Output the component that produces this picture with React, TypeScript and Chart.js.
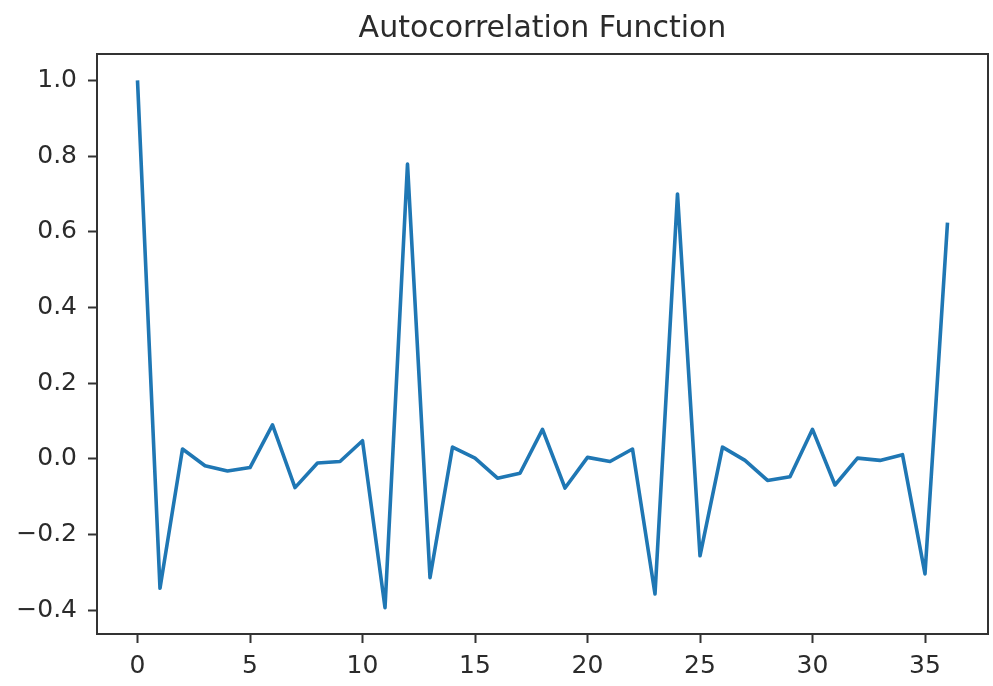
import React, { useEffect, useRef } from "react";
import { Chart, registerables } from "chart.js";

Chart.register(...registerables);

const titleText = "Autocorrelation Function";
const lags = [
  0, 1, 2, 3, 4, 5, 6, 7, 8, 9, 10, 11, 12, 13, 14, 15, 16, 17, 18, 19, 20, 21, 22, 23, 24, 25, 26, 27, 28, 29, 30, 31, 32, 33, 34, 35, 36,
];
const acfValues = [
  1.0, -0.342, 0.026, -0.018, -0.032, -0.023, 0.09, -0.076, -0.011, -0.007, 0.048, -0.393, 0.779, -0.314, 0.031, 0.002, -0.051, -0.038,
  0.078, -0.077, 0.004, -0.007, 0.026, -0.357, 0.7, -0.256, 0.031, -0.004, -0.057, -0.047, 0.078, -0.069, 0.002, -0.004, 0.011, -0.304,
  0.624,
];
const xTickValues = [0, 5, 10, 15, 20, 25, 30, 35];
const xTickLabels = ["0", "5", "10", "15", "20", "25", "30", "35"];
const yTickValues = [-0.4, -0.2, 0.0, 0.2, 0.4, 0.6, 0.8, 1.0];
const yTickLabels = ["\u22120.4", "\u22120.2", "0.0", "0.2", "0.4", "0.6", "0.8", "1.0"];

const FONT = "'DejaVu Sans', sans-serif";
const TEXT_COLOR = "#2b2b2b";
const SPINE_COLOR = "#333333";

const framePlugin = {
  id: "frame",
  afterDraw(chart: any) {
    const { ctx, chartArea } = chart;
    ctx.save();
    ctx.strokeStyle = SPINE_COLOR;
    ctx.lineWidth = 2;
    ctx.strokeRect(chartArea.left, chartArea.top, chartArea.right - chartArea.left, chartArea.bottom - chartArea.top);
    ctx.restore();
  },
};

export default function App() {
  const ref = useRef<HTMLCanvasElement | null>(null);

  useEffect(() => {
    if (!ref.current) return;
    const chart = new Chart(ref.current, {
      type: "line",
      data: {
        datasets: [
          {
            data: lags.map((x, i) => ({ x, y: acfValues[i] })),
            borderColor: "#1f77b4",
            borderWidth: 3.6,
            borderJoinStyle: "round",
            borderCapStyle: "butt",
            pointRadius: 0,
            tension: 0,
            fill: false,
          },
        ],
      },
      options: {
        responsive: false,
        animation: false,
        devicePixelRatio: 1,
        layout: { padding: { left: 0, right: 5, top: 0, bottom: 0 } },
        plugins: {
          legend: { display: false },
          tooltip: { enabled: false },
          title: {
            display: true,
            text: titleText,
            fullSize: false,
            color: TEXT_COLOR,
            font: { family: FONT, size: 30, weight: "normal" },
            padding: { top: 11, bottom: 7 },
          },
        },
        scales: {
          x: {
            type: "linear",
            min: -1.8,
            max: 37.8,
            afterBuildTicks: (scale: any) => {
              scale.ticks = xTickValues.map((v) => ({ value: v }));
            },
            afterFit: (scale: any) => {
              scale.height = 52;
            },
            ticks: {
              autoSkip: false,
              maxRotation: 0,
              color: TEXT_COLOR,
              font: { family: FONT, size: 25 },
              padding: 8,
              callback: (_v: any, i: number) => xTickLabels[i],
            },
            grid: {
              drawOnChartArea: false,
              drawTicks: true,
              tickLength: 9,
              tickWidth: 2,
              tickColor: SPINE_COLOR,
            },
            border: { display: false },
          },
          y: {
            type: "linear",
            min: -0.4627,
            max: 1.0697,
            afterBuildTicks: (scale: any) => {
              scale.ticks = yTickValues.map((v) => ({ value: v }));
            },
            afterFit: (scale: any) => {
              scale.width = 97;
            },
            ticks: {
              autoSkip: false,
              color: TEXT_COLOR,
              font: { family: FONT, size: 25 },
              padding: 11,
              callback: (_v: any, i: number) => yTickLabels[i],
            },
            grid: {
              drawOnChartArea: false,
              drawTicks: true,
              tickLength: 9,
              tickWidth: 2,
              tickColor: SPINE_COLOR,
            },
            border: { display: false },
          },
        },
      },
      plugins: [framePlugin],
    });
    return () => chart.destroy();
  }, []);

  return (
    <div style={{ position: "absolute", left: 0, top: 0, width: 993, height: 686, background: "#fff" }}>
      <canvas ref={ref} width={993} height={686} style={{ display: "block", width: 993, height: 686 }} />
    </div>
  );
}
